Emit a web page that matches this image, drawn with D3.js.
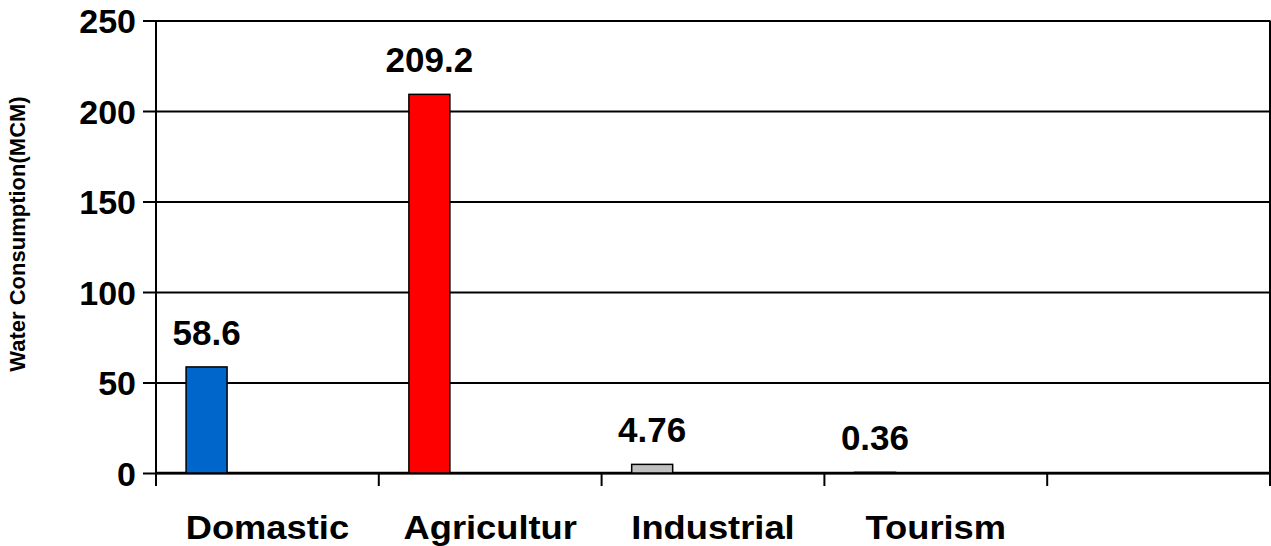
<!DOCTYPE html>
<html>
<head>
<meta charset="utf-8">
<script src="https://cdn.jsdelivr.net/npm/d3@7"></script>
<style>
  html, body { margin: 0; padding: 0; background: #fff; }
  svg { display: block; font-family: "Liberation Sans", Arial, sans-serif; font-weight: bold; }
</style>
</head>
<body>
<svg id="chart" width="1271" height="546"></svg>
<script>
// Water consumption by sector (MCM)
const categories = ["Domastic", "Agricultur", "Industrial", "Tourism", ""];
const values = [58.6, 209.2, 4.76, 0.36, null];
const valueLabels = ["58.6", "209.2", "4.76", "0.36", ""];
const barColors = ["#0066CC", "#FF0000", "#C0C0C0", "#C0C0C0", "#C0C0C0"];
const yTicks = [0, 50, 100, 150, 200, 250];
const yTitle = "Water Consumption(MCM)";

const svg = d3.select("#chart");
const plotLeft = 156, plotRight = 1270, plotTop = 20.5, plotBottom = 473;

const x = d3.scaleBand().domain(categories).range([plotLeft, plotRight]).padding(0);
const y = d3.scaleLinear().domain([0, 250]).range([plotBottom, plotTop]);
// position of the bar inside each category slot
const inSlot = d3.scaleLinear().domain([0, 1]).range([0, x.bandwidth()]);
const barOffset = inSlot(0.135), barWidth = inSlot(0.184);

// horizontal gridlines with ticks on the left
const yAxis = d3.axisLeft(y).tickValues(yTicks).tickSize(-(plotRight - plotLeft)).tickSizeOuter(0).tickPadding(20).tickFormat(d3.format("d"));
const gy = svg.append("g").attr("transform", `translate(${plotLeft},0)`).call(yAxis);
gy.select(".domain").remove();
gy.selectAll(".tick line").attr("x1", -13).attr("stroke", "#000").attr("stroke-width", 2);
gy.selectAll(".tick text").attr("font-size", 34).attr("font-weight", "bold")
  .attr("font-family", "Liberation Sans, Arial, sans-serif").attr("fill", "#000").attr("dy", "0.36em");

// left axis and right frame
svg.append("line").attr("x1", plotLeft).attr("x2", plotLeft).attr("y1", plotTop).attr("y2", plotBottom)
  .attr("stroke", "#000").attr("stroke-width", 2);
svg.append("line").attr("x1", plotRight).attr("x2", plotRight).attr("y1", plotTop).attr("y2", plotBottom)
  .attr("stroke", "#000").attr("stroke-width", 2);

// bottom axis with ticks between categories
const xBounds = categories.map(c => x(c)).concat([x.range()[1]]);
svg.append("line").attr("x1", plotLeft).attr("x2", plotRight).attr("y1", y(0)).attr("y2", y(0))
  .attr("stroke", "#000").attr("stroke-width", 2.5);
svg.append("g").selectAll("line").data(xBounds).join("line")
  .attr("x1", d => d).attr("x2", d => d).attr("y1", y(0)).attr("y2", y(0) + 13)
  .attr("stroke", "#000").attr("stroke-width", 2);

// bars
const data = categories.map((c, i) => ({ c, v: values[i], label: valueLabels[i], color: barColors[i] }))
  .filter(d => d.v !== null);
svg.append("g").selectAll("rect").data(data).join("rect")
  .attr("x", d => x(d.c) + barOffset)
  .attr("width", barWidth)
  .attr("y", d => y(d.v))
  .attr("height", d => y(0) - y(d.v))
  .attr("fill", d => d.color)
  .attr("stroke", "#000").attr("stroke-width", 1.5);

// value labels
svg.append("g").selectAll("text").data(data).join("text")
  .attr("x", d => x(d.c) + barOffset + barWidth / 2)
  .attr("y", d => y(d.v) - 22)
  .attr("text-anchor", "middle")
  .attr("font-size", 35)
  .attr("fill", "#000")
  .text(d => d.label);

// category labels
svg.append("g").selectAll("text").data(categories.filter(c => c !== "")).join("text")
  .attr("transform", d => `translate(${x(d) + x.bandwidth() / 2},539) scale(1.1,1)`)
  .attr("text-anchor", "middle")
  .attr("font-size", 33)
  .attr("fill", "#000")
  .text(d => d);

// y axis title
svg.append("text")
  .attr("transform", `translate(25,234) rotate(-90)`)
  .attr("text-anchor", "middle")
  .attr("font-size", 22)
  .attr("fill", "#000")
  .text(yTitle);
</script>
</body>
</html>
